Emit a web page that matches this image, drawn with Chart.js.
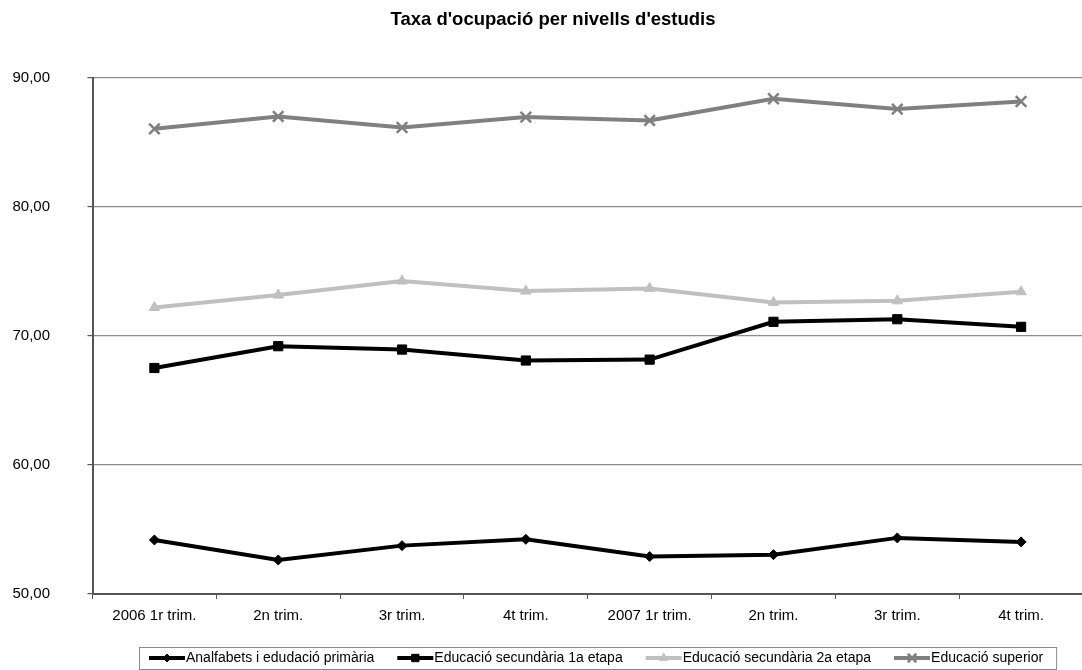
<!DOCTYPE html>
<html>
<head>
<meta charset="utf-8">
<script src="https://cdn.jsdelivr.net/npm/chart.js@4/dist/chart.umd.min.js"></script>
<style>
  html, body { margin: 0; padding: 0; background: #fff; overflow: hidden; }
  #wrap { position: relative; width: 1093px; height: 670px; }
</style>
</head>
<body>
<div id="wrap"><canvas id="c" width="1093" height="670"></canvas></div>
<script>
const categories = ['2006 1r trim.', '2n trim.', '3r trim.', '4t trim.', '2007 1r trim.', '2n trim.', '3r trim.', '4t trim.'];
const seriesNames = ['Analfabets i edudació primària', 'Educació secundària 1a etapa', 'Educació secundària 2a etapa', 'Educació superior'];
const primaria = [54.19, 52.64, 53.75, 54.24, 52.90, 53.05, 54.35, 54.04];
const secundaria1 = [67.52, 69.21, 68.95, 68.10, 68.17, 71.10, 71.30, 70.71];
const secundaria2 = [72.21, 73.17, 74.26, 73.48, 73.69, 72.60, 72.73, 73.43];
const superior = [86.06, 87.02, 86.16, 86.97, 86.71, 88.39, 87.59, 88.18];
const yTicks = [50, 60, 70, 80, 90];
const titleText = "Taxa d'ocupació per nivells d'estudis";

const FONT = "'Liberation Sans', Arial, sans-serif";

function ds(label, data, color, style, radius, bw) {
  return {
    label, data,
    borderColor: color, backgroundColor: color,
    borderWidth: 4, tension: 0,
    pointStyle: style, pointRadius: radius, pointHoverRadius: radius,
    pointBackgroundColor: color, pointBorderColor: color, pointBorderWidth: bw
  };
}

const legendPlugin = {
  id: 'boxLegend',
  afterDraw(chart) {
    const ctx = chart.ctx;
    ctx.save();
    ctx.font = '14px ' + FONT;
    const cy = 658;
    const lineLen = 36, gap = 23;
    let x = 149;
    const items = chart.data.datasets;
    const positions = [];
    items.forEach((d) => {
      const w = ctx.measureText(d.label).width;
      positions.push({ x, w, d });
      x += lineLen + 1 + w + gap;
    });
    const right = positions[positions.length - 1].x + lineLen + 1 + positions[positions.length - 1].w + 13;
    ctx.strokeStyle = '#8a8a8a';
    ctx.lineWidth = 1;
    ctx.strokeRect(139.5, 647.5, right - 139, 22);
    positions.forEach(({ x, d }) => {
      ctx.strokeStyle = d.borderColor;
      ctx.lineWidth = 4;
      ctx.beginPath();
      ctx.moveTo(x, cy);
      ctx.lineTo(x + lineLen, cy);
      ctx.stroke();
      ctx.fillStyle = d.pointBackgroundColor;
      ctx.strokeStyle = d.pointBorderColor;
      ctx.lineWidth = d.pointBorderWidth;
      Chart.helpers.drawPoint(ctx, { pointStyle: d.pointStyle, radius: d.pointRadius * 0.8, rotation: 0, borderWidth: d.pointBorderWidth }, x + lineLen / 2, cy);
      ctx.fillStyle = '#000';
      ctx.textBaseline = 'middle';
      ctx.textAlign = 'left';
      ctx.fillText(d.label, x + lineLen + 1, cy);
    });
    ctx.restore();
  }
};

new Chart(document.getElementById('c'), {
  type: 'line',
  data: {
    labels: categories,
    datasets: [
      ds(seriesNames[0], primaria, '#000000', 'rectRot', 5, 1),
      ds(seriesNames[1], secundaria1, '#000000', 'rect', 6.5, 1),
      ds(seriesNames[2], secundaria2, '#c0c0c0', 'triangle', 6, 1),
      ds(seriesNames[3], superior, '#808080', 'crossRot', 7.5, 2.5)
    ]
  },
  options: {
    responsive: false,
    animation: false,
    devicePixelRatio: 1,
    layout: { padding: { left: 13, right: 0, top: 0, bottom: 45 } },
    plugins: {
      legend: { display: false },
      tooltip: { enabled: false },
      title: {
        display: true,
        text: titleText,
        color: '#000',
        font: { family: FONT, size: 18.5, weight: 'bold' },
        padding: { top: 8.4, bottom: 47.4 }
      }
    },
    scales: {
      x: {
        type: 'category',
        offset: true,
        afterFit(scale) { scale.height = 31; },
        grid: { offset: true, drawOnChartArea: false, drawTicks: true, tickLength: 5, tickColor: '#555', tickWidth: 1 },
        border: { display: true, color: '#555', width: 2 },
        ticks: { color: '#000', font: { family: FONT, size: 15 }, padding: 8, maxRotation: 0, autoSkip: false }
      },
      y: {
        min: yTicks[0], max: yTicks[yTicks.length - 1],
        afterFit(scale) { scale.width = 79.5; },
        afterBuildTicks(scale) { scale.ticks = yTicks.map(v => ({ value: v })); },
        grid: { color: '#8c8c8c', lineWidth: 1.2, tickLength: 5, tickColor: '#555' },
        border: { display: true, color: '#555', width: 2 },
        ticks: {
          color: '#000', font: { family: FONT, size: 15 }, padding: 37.5,
          callback: (v) => Number(v).toFixed(2).replace('.', ',')
        }
      }
    }
  },
  plugins: [legendPlugin]
});
</script>
</body>
</html>
